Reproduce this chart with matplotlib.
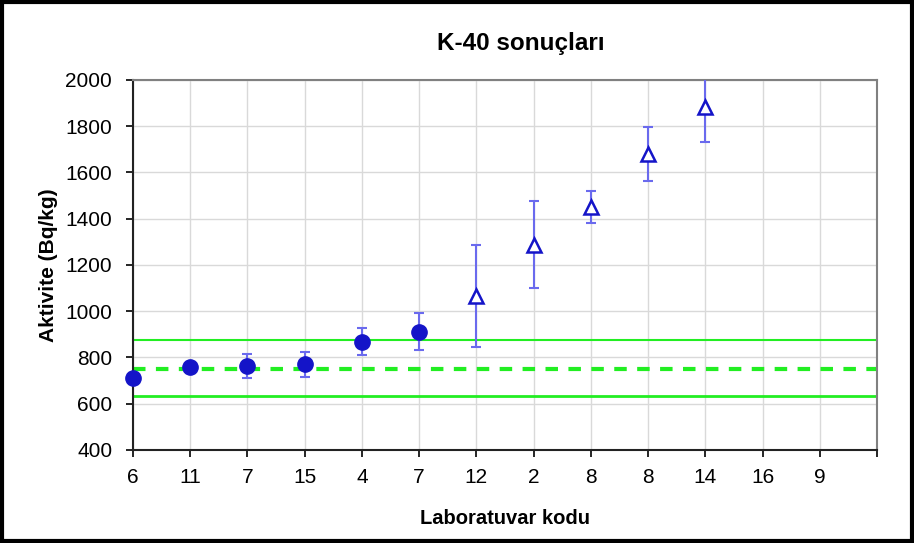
import matplotlib
matplotlib.use("Agg")
import matplotlib.pyplot as plt
from matplotlib.patches import Rectangle
import numpy as np

plt.rcParams["font.family"] = ["Liberation Sans", "DejaVu Sans"]

lab_codes = ["6", "11", "7", "15", "4", "7", "12", "2", "8", "8", "14", "16", "9"]

# accepted results (filled circles)
ok_idx = [0, 1, 2, 3, 4, 5]
ok_vals = [710, 760, 763, 770, 868, 912]
ok_err = [0, 0, 53, 54, 59, 80]

# outlying results (open triangles)
out_idx = [6, 7, 8, 9, 10]
out_vals = [1066, 1287, 1450, 1680, 1885]
out_err = [220, 188, 70, 115, 153]

ref_value = 750
ref_upper = 876
ref_lower = 633

fig = plt.figure(figsize=(9.14, 5.43), dpi=100)
ax = fig.add_axes([0.1455, 0.1713, 0.8140, 0.6814])

x_pos = np.arange(len(lab_codes))
ax.set_xlim(0, len(lab_codes))
ax.set_ylim(400, 2000)

ax.axhline(ref_upper, color="#22ee22", lw=1.5, zorder=2)
ax.axhline(ref_lower, color="#22ee22", lw=2.0, zorder=2)
ax.axhline(ref_value, color="#22ee22", lw=3.0, ls=(0, (3, 2.5)), zorder=2)

ax.errorbar(x_pos[ok_idx], ok_vals, yerr=ok_err, fmt="none", ecolor="#6a6aee",
            elinewidth=1.5, capsize=3.5, capthick=1.5, zorder=3)
ax.plot(x_pos[ok_idx], ok_vals, "o", color="#1414c8", markersize=11, zorder=4,
        clip_on=False)

ax.errorbar(x_pos[out_idx], out_vals, yerr=out_err, fmt="none", ecolor="#6a6aee",
            elinewidth=1.5, capsize=3.5, capthick=1.5, zorder=3)
ax.plot(x_pos[out_idx], out_vals, "^", markerfacecolor="white", markeredgecolor="#1414c8",
        markeredgewidth=1.8, markersize=10, zorder=4)

ax.set_xticks(np.arange(len(lab_codes) + 1))
ax.set_xticklabels(lab_codes + [""], fontsize=15)
ax.set_yticks(np.arange(400, 2001, 200))
ax.tick_params(axis="y", labelsize=15, length=5, width=1.2, pad=10)
ax.tick_params(axis="x", length=5, width=1.2, pad=8)
ax.grid(True, color="#d9d9d9", lw=1, zorder=0)
ax.set_axisbelow(True)

for side in ["left", "bottom"]:
    ax.spines[side].set_color("#222222")
    ax.spines[side].set_linewidth(1.5)
for side in ["top", "right"]:
    ax.spines[side].set_color("#808080")
    ax.spines[side].set_linewidth(1.5)

ax.set_ylabel("Aktivite (Bq/kg)", fontsize=15, fontweight="bold", labelpad=5)
ax.set_xlabel("Laboratuvar kodu", fontsize=14.5, fontweight="bold", labelpad=16)
fig.text(0.570, 0.92, "K-40 sonuçları", ha="center", va="center",
         fontsize=17.5, fontweight="bold")

fig.patches.append(Rectangle((0.002, 0.003), 0.996, 0.994, transform=fig.transFigure,
                             fill=False, edgecolor="black", lw=3))

fig.savefig("out.png", dpi=100)
